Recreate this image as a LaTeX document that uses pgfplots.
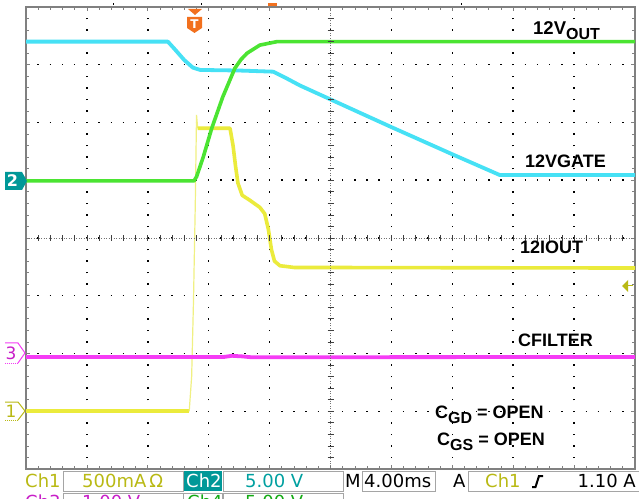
\documentclass[border=0pt]{standalone}
\usepackage{pgfplots}
\pgfplotsset{compat=1.18}
\usepackage{fontspec}
\setmainfont{Liberation Sans}
\newfontfamily\scopefnt{DejaVu Sans}
\newcommand{\stxt}[1]{\scopefnt\fontsize{18}{18}\selectfont #1}
\definecolor{cyn}{RGB}{70,225,245}
\definecolor{grn}{RGB}{75,228,50}
\definecolor{yel}{RGB}{235,235,60}
\definecolor{yelthin}{RGB}{240,240,130}
\definecolor{mag}{RGB}{245,60,245}
\definecolor{oli}{RGB}{185,185,20}
\definecolor{tealb}{RGB}{0,152,152}
\definecolor{tealt}{RGB}{0,160,160}
\definecolor{org}{RGB}{242,112,30}
\definecolor{brd}{RGB}{128,128,128}
\definecolor{boxg}{RGB}{165,165,165}
\definecolor{magt}{RGB}{200,30,200}
\definecolor{grnt}{RGB}{20,170,20}
\begin{document}
\begin{tikzpicture}[x=1pt,y=1pt]
\useasboundingbox (0,0) rectangle (639,498);
\clip (0,0) rectangle (639,498);
\fill[white] (0,0) rectangle (639,498);
\begin{axis}[
  at={(26pt,29pt)}, anchor=south west, scale only axis,
  width=609pt, height=462pt,
  xmin=0, xmax=10, ymin=0, ymax=8,
  xtick={0,...,10}, ytick={0,...,8},
  minor x tick num=4, minor y tick num=4,
  xticklabels={}, yticklabels={},
  tick align=inside, major tick length=4pt, minor tick length=3pt,
  every tick/.style={draw=brd, line width=0.7pt},
  axis line style={draw=brd, line width=2pt},
  xmajorgrids, ymajorgrids,
  major x grid style={black, line width=1.5pt, dash pattern=on 1.5pt off 10.05pt, dash phase=0.75pt},
  major y grid style={black, line width=1.5pt, dash pattern=on 1.5pt off 10.68pt, dash phase=0.75pt},
]
% 12IOUT (yellow)
\addplot[yel, line width=3.6pt] coordinates {(0,1.00) (2.68,1.00)};
\addplot[yelthin, line width=1.2pt] coordinates {(2.68,1.00) (2.72,1.6) (2.75,2.9) (2.78,4.6) (2.80,6.13) (2.82,5.90)};
\addplot[yel, line width=3.6pt, line join=round] coordinates {(2.82,5.90) (3.35,5.90) (3.40,5.60) (3.44,5.25) (3.48,4.95) (3.55,4.74) (3.68,4.65) (3.84,4.53) (3.92,4.42) (3.98,4.15) (4.03,3.80) (4.08,3.60) (4.17,3.52) (4.40,3.49) (10,3.48)};
% CFILTER (magenta)
\addplot[mag, line width=3.8pt, line join=round] coordinates {(0,1.94) (3.25,1.94) (3.38,1.96) (3.55,1.95) (3.70,1.935) (10,1.94)};
% 12VGATE (cyan)
\addplot[cyn, line width=3.8pt, line join=round] coordinates {(0,7.40) (2.33,7.40) (2.45,7.26) (2.60,7.08) (2.74,6.95) (2.86,6.91) (3.50,6.90) (4.06,6.88) (4.25,6.78) (4.50,6.64) (5.00,6.40) (6.00,5.92) (7.00,5.45) (7.78,5.09) (10,5.09)};
% 12VOUT (green)
\addplot[grn, line width=3.6pt, line join=round] coordinates {(0,4.99) (2.76,4.99) (2.80,5.06) (2.91,5.40) (3.05,5.90) (3.23,6.44) (3.43,6.94) (3.53,7.09) (3.63,7.20) (3.84,7.34) (4.12,7.40) (10,7.40)};
\end{axis}
% centre crosshair
\draw[black!55, line width=0.6pt, dash pattern=on 1pt off 1.5pt] (26,260) -- (635,260);
\draw[black!55, line width=0.6pt, dash pattern=on 1pt off 1.5pt] (330.5,29) -- (330.5,491);
\foreach \i in {1,...,49} \draw[black!75, line width=0.7pt] ({26+\i*12.18},257) -- ++(0,6);
\foreach \i in {1,...,39} \draw[black!75, line width=0.7pt] (327.5,{29+\i*11.55}) -- ++(6,0);
% channel markers
\fill[tealb] (5,326) -- (22,326) -- (27,317) -- (22,308) -- (5,308) -- cycle;
\node[white, inner sep=0] at (12.5,317) {\scopefnt\bfseries\fontsize{16}{16}\selectfont 2};
\draw[mag, line width=1pt] (5,155) -- (18,155) -- (25,145) -- (18,135);
\draw[mag, line width=1pt, dash pattern=on 1pt off 1pt] (18,135) -- (5,135);
\node[magt, inner sep=0] at (11,145) {\scopefnt\fontsize{17}{17}\selectfont 3};
\draw[oli, line width=1pt] (5,96) -- (18,96) -- (25,87) -- (18,78);
\draw[oli, line width=1pt, dash pattern=on 1pt off 1pt] (18,78) -- (5,78);
\node[oli, inner sep=0] at (11,87) {\scopefnt\fontsize{17}{17}\selectfont 1};
% trigger marker
\fill[org] (188,489) -- (202,489) -- (195,483) -- cycle;
\fill[org] (187,481) -- (202,481) -- (202,470) -- (194.5,465) -- (187,470) -- cycle;
\node[white, inner sep=0] at (194.5,474) {\scopefnt\bfseries\fontsize{12}{12}\selectfont T};
\fill[org] (268,492) rectangle (277,495);
\draw[black, line width=1pt] (113,493) -- (113,495);
\draw[black, line width=1pt] (201,493) -- (201,495);
\draw[black, line width=1pt] (461,493) -- (461,495);
% trigger level arrow
\fill[oli] (622,212) -- (628,218) -- (628,206) -- cycle;
\draw[oli, line width=1pt] (628,212) -- (633,212);
% labels
\node[anchor=base west, inner sep=0] at (533,463) {\fontsize{18.5}{20}\selectfont\bfseries 12V\raisebox{-4.5pt}{\fontsize{16}{16}\selectfont OUT}};
\node[anchor=base west, inner sep=0] at (525,330) {\fontsize{18}{20}\selectfont\bfseries 12VGATE};
\node[anchor=base west, inner sep=0] at (520,244) {\fontsize{18}{20}\selectfont\bfseries 12IOUT};
\node[anchor=base west, inner sep=0] at (518,151) {\fontsize{18}{20}\selectfont\bfseries CFILTER};
\node[anchor=base west, inner sep=0] at (435,80) {\fontsize{18}{20}\selectfont\bfseries C\raisebox{-5pt}{\fontsize{16}{16}\selectfont GD} = OPEN};
\node[anchor=base west, inner sep=0] at (437,53) {\fontsize{18}{20}\selectfont\bfseries C\raisebox{-5pt}{\fontsize{16}{16}\selectfont GS} = OPEN};
% status bar
\fill[tealb] (183,7) rectangle (222,27);
\draw[boxg, line width=1pt] (63,7) rectangle (183,27);
\draw[boxg, line width=1pt] (223,7) rectangle (343,27);
\draw[boxg, line width=1pt] (362,7) rectangle (435,27);
\draw[boxg, line width=1pt] (468,7) rectangle (645,27);
\draw[boxg, line width=1pt] (63,-20) rectangle (183,5);
\draw[boxg, line width=1pt] (183,-20) rectangle (222,5);
\draw[boxg, line width=1pt] (223,-20) rectangle (343,5);
\node[oli, anchor=base west, inner sep=0] at (25,11) {\stxt{Ch1}};
\node[oli, anchor=base west, inner sep=0] at (82,11) {\stxt{500mA\,Ω}};
\node[white, anchor=base west, inner sep=0] at (186,11) {\stxt{Ch2}};
\node[tealt, anchor=base west, inner sep=0] at (245,11) {\stxt{5.00 V}};
\node[black, anchor=base west, inner sep=0] at (345,11) {\stxt{M}};
\node[black, anchor=base west, inner sep=0] at (364,11) {\stxt{4.00ms}};
\node[black, anchor=base west, inner sep=0] at (453,11) {\stxt{A}};
\node[oli, anchor=base west, inner sep=0] at (485,11) {\stxt{Ch1}};
\node[black, anchor=base east, inner sep=0] at (636,11) {\stxt{1.10 A}};
\node[magt, anchor=base west, inner sep=0] at (25,-10) {\stxt{Ch3}};
\node[magt, anchor=base west, inner sep=0] at (82,-10) {\stxt{1.00 V}};
\node[grnt, anchor=base west, inner sep=0] at (187,-10) {\stxt{Ch4}};
\node[grnt, anchor=base west, inner sep=0] at (245,-10) {\stxt{5.00 V}};
\draw[black, line width=2pt] (532,11) -- (535.5,11) -- (539,22) -- (543,22);
\end{tikzpicture}
\end{document}
